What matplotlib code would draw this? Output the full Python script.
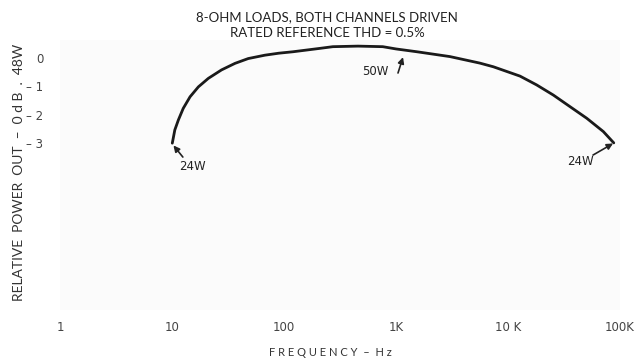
import numpy as np
import matplotlib
matplotlib.use("Agg")
import matplotlib.pyplot as plt

# power response curve (Hz, dB re 48W)
freq = [10.06, 10.6, 11.4, 12.6, 14.5, 17.2, 21.1, 27.7, 36.5, 47.9, 67.6, 90.0,
        120.0, 209.0, 273.0, 457.0, 762.0, 1000.0, 1540.0, 3030.0, 5600.0,
        7400.0, 12800.0, 18000.0, 25400.0, 35800.0, 50500.0, 71000.0, 88000.0]
level = [-3.01, -2.54, -2.19, -1.78, -1.37, -1.02, -0.72, -0.42, -0.19, -0.02, 0.10, 0.17,
         0.22, 0.34, 0.40, 0.42, 0.40, 0.32, 0.22, 0.05, -0.18,
         -0.31, -0.64, -0.95, -1.31, -1.72, -2.13, -2.60, -3.0]

xticks = [1, 10, 100, 1000, 10000, 100000]
xtick_labels = ["1", "10", "100", "1K", "10 K", "100K"]
yticks = [0, -1, -2, -3]
ytick_labels = ["0", "\u2013 1", "\u2013 2", "\u2013 3"]

# callouts: text, text position, arrow tail, arrow head (Hz, dB)
notes = [("24W", (15.1, -3.85), (12.5, -3.50), (10.3, -3.09)),
         ("50W", (649.0, -0.49), (1042.0, -0.53), (1155.0, 0.03)),
         ("24W", (43900.0, -3.67), (57400.0, -3.43), (86700.0, -3.02))]

W, H = 640, 362
fig = plt.figure(figsize=(W / 100, H / 100), dpi=100)
fig.patch.set_facecolor("white")

# axes placed in pixel terms: 1 Hz at px 60, 100 kHz at px 620
top_px, bot_px = 40, 310
px_per_db, zero_px = 28.3, 58
ax = fig.add_axes([60 / W, 1 - bot_px / H, 560 / W, (bot_px - top_px) / H])
ax.set_facecolor("#fbfbfb")

ax.plot(freq, level, color="#1a1a1a", lw=2.0, solid_capstyle="round",
        solid_joinstyle="round")

ax.set_xscale("log")
ax.set_xlim(1, 100000)
ax.set_ylim((zero_px - bot_px) / px_per_db, (zero_px - top_px) / px_per_db)

ax.set_xticks(xticks)
ax.set_xticklabels(xtick_labels)
ax.minorticks_off()
ax.set_yticks(yticks)
ax.set_yticklabels(ytick_labels)
ax.tick_params(axis="both", length=0, labelsize=8.5, labelcolor="#444444")
ax.tick_params(axis="x", pad=8)
ax.tick_params(axis="y", pad=12)
for s in ax.spines.values():
    s.set_visible(False)

for txt, pos, tail, head in notes:
    ax.text(pos[0], pos[1], txt, fontsize=8.5, color="#222222",
            ha="center", va="center")
    ax.annotate("", xy=head, xytext=tail,
                arrowprops=dict(arrowstyle="-|>", color="#222222", lw=1.2,
                                shrinkA=0, shrinkB=0, mutation_scale=9))

fig.text(327 / W, 1 - 17 / H, "8-OHM LOADS, BOTH CHANNELS DRIVEN",
         ha="center", va="center", fontsize=9.5, color="#222222", family="Lato")
fig.text(327 / W, 1 - 33 / H, "RATED REFERENCE THD = 0.5%",
         ha="center", va="center", fontsize=9.5, color="#222222", family="Lato")

fig.text(19 / W, 1 - 172 / H, "RELATIVE  POWER  OUT  \u2013  0 d B  .  48W",
         rotation=90, ha="center", va="center", fontsize=10, color="#333333",
         family="Lato")
fig.text(330 / W, 1 - 352 / H, "F R E Q U E N C Y  \u2013  H z",
         ha="center", va="center", fontsize=8, color="#333333", family="Lato")

fig.savefig("out.png", dpi=100)
